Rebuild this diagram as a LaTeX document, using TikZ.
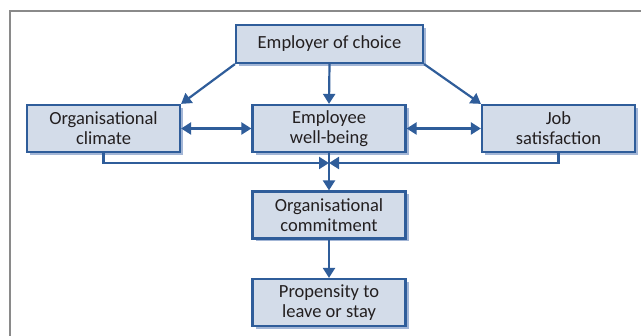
\documentclass[tikz,border=0pt]{standalone}
\usepackage{fontspec}
\setmainfont{Carlito}
\usetikzlibrary{arrows.meta,shadows}
\definecolor{boxfill}{HTML}{D3DCE9}
\definecolor{boxline}{HTML}{2F5D9A}
\definecolor{shade}{HTML}{A3B6D6}
\definecolor{inkgray}{HTML}{231F20}
\definecolor{framegray}{HTML}{8A8A8A}
\tikzset{
  box/.style={draw=boxline, line width=2.2pt, fill=boxfill, rectangle,
    minimum width=153pt, minimum height=47pt, align=center, inner sep=0pt,
    text=inkgray, font=\fontsize{18.5}{20}\selectfont,
    drop shadow={shadow xshift=3pt, shadow yshift=-3pt, fill=shade, opacity=1}},
  tip/.style={Triangle[length=10pt,width=12pt]},
  link/.style={draw=boxline, line width=2.2pt, -{Triangle[length=10pt,width=12pt]}},
  dlink/.style={draw=boxline, line width=2.2pt, {Triangle[length=10pt,width=12pt]}-{Triangle[length=10pt,width=12pt]}},
}
\begin{document}
\begin{tikzpicture}[x=1pt,y=-1pt]
\useasboundingbox (0,0) rectangle (641,336);
\fill[white] (0,0) rectangle (641,336);
% outer frame
\draw[framegray, line width=1.5pt] (10,345) -- (10,11) -- (650,11);

% boxes
\node[box, minimum width=187pt, minimum height=38pt] (emp) at (329.5,44) {Employer of choice};
\node[box] (clim) at (103.5,128.5) {Organisational\\climate};
\node[box] (wb) at (329,128.5) {Employee\\well-being};
\node[box] (job) at (558.5,128.5) {Job\\satisfaction};
\node[box] (com) at (329,215) {Organisational\\commitment};
\node[box] (prop) at (329,302.5) {Propensity to\\leave or stay};

% junction below the middle row
\coordinate (j) at (329,163);

% connectors
\draw[link] (emp.south west) -- (clim.north east);
\draw[link] (emp.south) -- (wb.north);
\draw[link] (emp.south east) -- (job.north west);
\draw[dlink] (clim.east) -- (wb.west);
\draw[dlink] (wb.east) -- (job.west);
\draw[link] (clim.south) |- (j);
\draw[link] (job.south) |- (j);
\draw[link] (wb.south) -- (com.north);
\draw[link] (com.south) -- (prop.north);
\end{tikzpicture}
\end{document}
